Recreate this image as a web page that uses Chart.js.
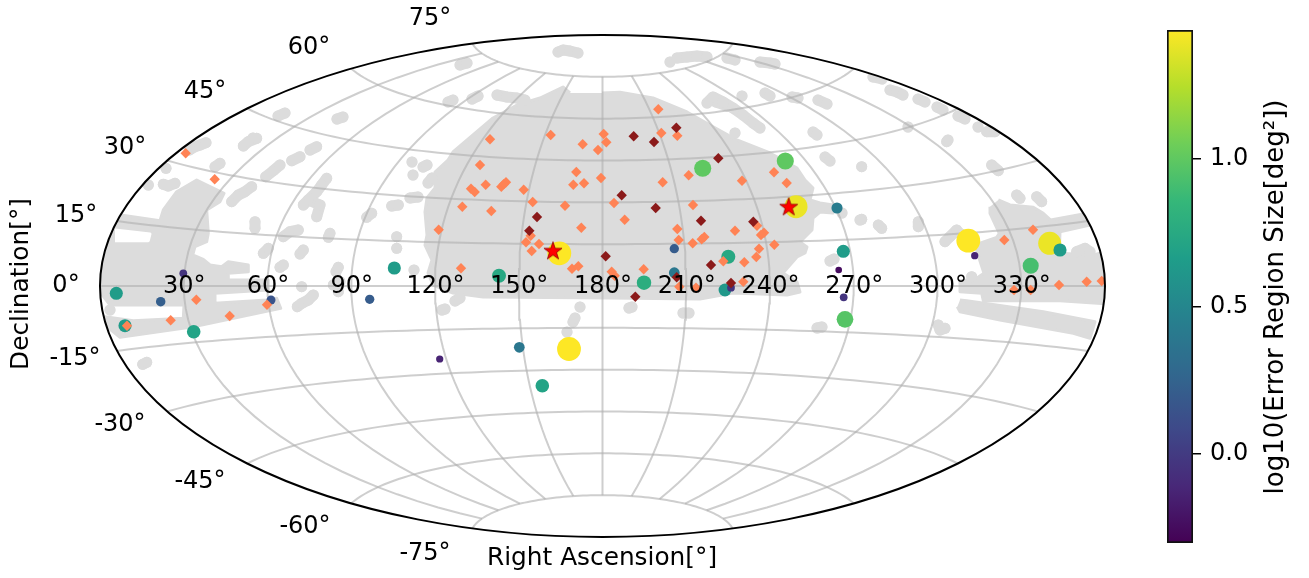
<!DOCTYPE html>
<html><head><meta charset="utf-8">
<style>html,body{margin:0;padding:0;background:#fff;overflow:hidden}canvas{position:absolute;top:0}</style>
<script src="https://cdn.jsdelivr.net/npm/chart.js@4"></script>
</head><body>
<canvas id="sky" width="1140" height="578" style="left:0"></canvas>
<canvas id="bar" width="169" height="578" style="left:1140px"></canvas>
<script>
// Values, in the projected sky plane (origin at RA 180, Dec 0).
const raTicks=[30,60,90,120,150,180,210,240,270,300,330];
const decTicks=[75,60,45,30,15,0,-15,-30,-45,-60,-75];
const decLabelPlane=[[-172.5,269],[-293.5,240],[-397.5,196],[-477.5,140],[-526.5,72],[-536.5,2],[-527.5,-71],[-482.5,-137],[-402.5,-194],[-297.5,-239],[-177.5,-266]];
const colorbarTicks=[0,0.5,1];
const colorRange=[-0.302,1.437];
const radioBursts=[[-486.2,-7.3,.65],[-441.8,-15.7,.22],[-419.2,12.7,-.04],[-477.5,-39.7,.65],[-408.8,-45.7,.7],[-331.5,-14,.15],[-232.8,-13.3,.2],[-208.2,18,.65],[-103.5,10.3,.74],[-43.2,32.7,1.437],[71.8,37.3,.2],[71.8,13.3,.39],[41.5,3.3,.78],[125.8,29.3,.74],[122.5,-4,.62],[128.5,-1.7,-.04],[234.5,78,.43],[240.8,34.7,.65],[236.2,16,-.25],[241.2,-11.3,-.04],[242.5,-33.3,.97],[100.2,117.7,1],[182.8,125,1],[193.5,79.3,1.39],[-33.5,-63,1.437],[-83.2,-61.3,.39],[-162.8,-73,-.13],[-60.2,-99.7,.7],[365.8,45.3,1.437],[372.2,30.3,-.13],[447.2,42.7,1.39],[457.5,36,.65],[428.2,20.3,.92]];
const orangeDiamonds=[[-416.8,132.7],[-387.8,106.7],[-406.2,-13.7],[-431.8,-34.3],[-372.8,-30],[-335.5,-18.7],[-475.5,-39.7],[-112.5,146.7],[-51.8,151],[1.2,152],[3.8,143.7],[-19.8,141.7],[-4.5,136],[-122.5,121],[-26.2,114],[-1.5,108],[-18.5,102.7],[-29.2,101.3],[-116.8,101.3],[-96.5,103.7],[-101.2,99.3],[-98.8,101.7],[-131.5,97.3],[-127.8,94],[-78.8,96.3],[-140.2,79.3],[-111.2,75],[-69.8,84],[-37.5,80.3],[11.5,83],[22.2,66.3],[-21.2,58.3],[-163.8,56.3],[-71.8,50.3],[-76.5,43.7],[-63.5,42],[-70.8,35],[-141.5,17.7],[-30.5,17.3],[-24.2,19.7],[9.2,14.3],[12.2,10.3],[55.8,176.7],[58.8,153],[74.8,150.3],[86.2,110.7],[60.2,103.7],[139.5,105.3],[171.5,113.7],[184.2,103],[90.5,81],[74.8,57],[76.2,46],[90.2,42.7],[101.8,49],[99.2,46.7],[132.5,55.3],[154.5,60.3],[161.5,53.3],[158.5,51],[171.8,41.3],[156.5,37.3],[153.8,29],[141.8,23.7],[120.8,24.7],[41.2,16.7],[76.8,-0.7],[93.5,-1.7],[140.8,4.3],[401.8,46],[430.5,56.3],[456.5,1],[484.2,4.3],[499.2,5],[411.5,-4],[428.2,-4]];
const darkDiamonds=[[19.2,90.7],[-65.5,69],[-73.2,55.3],[3.2,29.7],[31.2,149.7],[73.8,158.3],[51.5,144],[115.8,127.7],[53.2,78],[98.5,65.3],[150.8,64.3],[108.5,21],[128.5,3],[32.8,-10.7],[74.2,8.7]];
const redStars=[[-49.5,34.7],[186.2,78.7]];
const footprintMain=[[-.5,193],[17.5,193.7],[50.5,188],[84.5,174],[107.5,161],[134.5,146],[167.5,133],[194.5,118],[202.5,106],[210.5,98],[207.5,86],[217.5,83],[230.5,81],[230.5,73],[217.5,74],[210.5,68],[209.5,56],[197.5,44],[204.5,39],[202.5,33],[194.5,29],[180.5,13],[194.5,4],[197.5,-6],[184.5,-9],[130.5,-7],[97.5,-13],[7.5,-12],[-119.5,-11],[-149.5,-7],[-169.5,1],[-174.5,13],[-170.5,26],[-177.5,41],[-175.5,51],[-177.5,74],[-175.5,88],[-167.5,98],[-167.5,114],[-154.5,126],[-149.5,134],[-129.5,151],[-109.5,168],[-85.5,181],[-62.5,188],[-39.5,199],[-32.5,193]];
const footprintLeft=[[-481.8,71],[-442.5,65.3],[-439.2,76],[-425.8,94.3],[-405.8,106],[-399.2,102.7],[-378.5,92.7],[-382.5,84.3],[-395.8,76],[-394.2,52.7],[-395.8,44.3],[-407.5,39.3],[-409.8,31],[-399.2,26.7],[-392.5,21],[-380.8,19.3],[-374.2,24.3],[-354.2,21],[-354.2,14.3],[-374.2,12.7],[-374.2,6],[-334.2,6],[-334.2,-4],[-387.5,-7.3],[-387.5,-17.3],[-335.8,-14],[-325.8,-12.3],[-321.8,-22.3],[-409.2,-40.7],[-482.5,-51.3],[-497.5,-39],[-497.5,-30.7],[-469.2,-34.7],[-419.2,-32.3],[-418.5,-19],[-492.5,-19],[-504,-4],[-504,22.7],[-495.8,41],[-489.2,59.3]];
const footprintGap=[[-487.5,56],[-452.5,52],[-454.2,45.3],[-487.5,45.3]];
const footprintRight=[[395.8,86],[407.5,81],[430.8,78.7],[440.8,72.7],[448.2,66],[480.8,72],[487.5,61],[457.5,54.3],[456.8,32.7],[490.8,31],[497.5,32.7],[505.8,22.7],[505.8,-18],[457.5,-14.7],[380.8,-14.7],[379.2,-7.3],[357.5,-5.7],[357.5,5.3],[372.5,6.7],[381.5,12.7],[378.2,22.7],[372.5,41],[394.2,48.7],[396.8,52.7],[387.5,72.7],[387.5,79.3]];
const footprintStrip=[[357.5,-14],[364.2,-14.7],[440.8,-25.7],[492.5,-35.7],[487.5,-52.3],[470.8,-47.3],[397.5,-34],[357.5,-25.7],[354.8,-20.7]];
const footprintPatches=[
[[-359.2,140],[-354.2,144.3],[-345.8,147.7]],[[-413.2,136],[-407.5,139.3],[-402.5,141],[-396.5,143.3]],[[-387.5,119.3],[-382.5,122.7]],[[-336.8,109.3],[-329.2,115.3],[-322.5,121]],[[-310.8,125.3],[-302.5,129.3]],[[-292.5,136],[-285.8,139.3]],[[-454.2,101]],[[-439.2,101.7],[-434.2,100],[-427.5,102.7]],[[-436.5,117.7]],[[-370.8,84.3],[-364.2,91],[-357.5,94.3],[-350.8,99.3]],[[-275.8,107.7],[-280.8,101],[-285.8,94.3],[-294.2,86],[-299.2,81]],[[-294.2,86],[-282.5,81],[-285.8,69.3]],[[-235.8,68.7],[-230.8,72.7]],[[-210.8,80],[-204.2,81]],[[-347.5,64.3],[-347.5,57.7]],[[-319.2,49.3],[-312.5,54.3],[-304.2,56]],[[-274.2,48.7],[-272.5,52.7]],[[-205.8,49.3]],[[-302.5,32],[-299.2,36]],[[-339.2,32.7],[-334.2,37.7]],[[-322.5,18.7],[-319.2,21]],[[-266.5,14.3],[-264.2,18.7]],[[-205.8,37.7]],[[-300.8,-.7]],[[-305.2,-20.7],[-300.8,-17.3],[-294.2,-14],[-289.2,-9]],[[-269.2,1],[-262.5,4.3]],[[-264.2,-5.7]],[[-459.8,-78.3],[-455.8,-76.3]],[[-492.5,-24]],
[[-44.5,234],[-39.5,236],[-32.5,235],[-24.5,233]],[[-142.5,221],[-135.5,223]],[[-154.5,184],[-149.5,186]],[[-130.5,187],[-124.5,190]],[[-105.5,191],[-95.5,189],[-85.5,188],[-77.5,186]],[[-265.5,167],[-259.5,169]],[[-324.5,170],[-317.5,173]],[[-349.5,148]],[[74.5,228],[84.5,229],[94.5,230],[104.5,229]],[[124.5,228],[132.5,226]],[[157.5,224],[167.5,223],[172.5,222]],[[67.5,224]],[[270.5,209],[279.5,207]],[[287.5,196],[294.5,194],[300.5,191]],[[315.5,187],[322.5,184]],[[334.5,179],[340.5,176]],[[355.5,170],[362.5,167]],[[162.5,193],[167.5,190]],[[189.5,189],[195.5,188]],[[215.5,186],[224.5,182]],[[139.5,190]],[[104.5,183],[110.5,189],[120.5,184],[130.5,178],[140.5,171],[150.5,163],[157.5,158]],[[113.5,184],[125,180]],[[210.5,154],[214.5,151]],[[305.5,159]],[[345.5,146]],[[132.5,153]],[[375.5,159]],[[222.5,129],[227.5,125]],[[257.5,66]],[[239.5,73]],[[227.5,25],[231.5,27]],[[214.5,-42],[219.5,-41]],[[29.5,-21],[26.5,-22]],[[80.5,-27],[86.5,-27]],[[-22.5,-21]],[[-29.5,-36],[-27.5,-32]],[[-35.5,-46]],[[-147.5,-15],[-142.5,-12]],[[-160.5,-24],[-157.5,-23]],[[-188.5,16]],[[-190.5,124]],[[-179.5,119],[-175.5,121]],[[-174.5,103],[-170.5,108]],[[-189.5,111]],[[-192.5,88],[-184.5,89]],
[[344.2,144.3]],[[389.2,121],[395.8,115.3]],[[414.2,91],[417.5,87.7]],[[434.2,89.3],[439.2,84.3]],[[315.8,64.3],[315.8,59.3]],[[275.8,61],[279.2,57.7]],[[259.2,66.7]],[[259.2,119.3]],[[342.5,44.3],[347.5,49.3],[354.2,56]],[[357.5,52.7]],[[335.8,-39],[337.5,-44],[342.5,-42.3]],[[384.2,154.3],[392.5,154.3]],[[474.2,34.3],[482.5,37.7],[487.5,34.3]],[[369.2,9.3]]];

const PLANE_W=502.5, PLANE_H=251;
const VIRIDIS=['#440154','#482878','#3e4989','#31688e','#26828e','#1f9e89','#35b779','#6ece58','#b5de2b','#fde725'];
function hex(c){return [1,3,5].map(i=>parseInt(c.substr(i,2),16));}
function viridis(v){
  let t=(v-colorRange[0])/(colorRange[1]-colorRange[0]);t=Math.min(1,Math.max(0,t))*(VIRIDIS.length-1);
  const i=Math.min(VIRIDIS.length-2,Math.floor(t)),f=t-i,a=hex(VIRIDIS[i]),b=hex(VIRIDIS[i+1]);
  return 'rgb('+a.map((c,k)=>Math.round(c+(b[k]-c)*f)).join(',')+')';
}
// Aitoff projection for the graticule.
function aitoff(raDeg,decDeg){
  const l=(raDeg-180)*Math.PI/180,p=decDeg*Math.PI/180;
  const a=Math.acos(Math.cos(p)*Math.cos(l/2)),s=a<1e-9?1:Math.sin(a)/a;
  return {x:(Math.cos(p)*Math.sin(l/2)/s)*2/Math.PI*PLANE_W,y:(Math.sin(p)/s)*2/Math.PI*PLANE_H};
}
function graticule(){
  const sets=[];
  const line=d=>({data:d,showLine:true,pointRadius:0,borderColor:'rgba(176,176,176,.62)',borderWidth:2,order:5,fill:false});
  raTicks.forEach(r=>{const d=[];for(let k=-75;k<=75;k+=3)d.push(aitoff(r,k));sets.push(line(d));});
  decTicks.forEach(t=>{const d=[];for(let k=0;k<=360;k+=4)d.push(aitoff(k,t));sets.push(line(d));});
  return sets;
}
const xy=a=>a.map(p=>({x:p[0],y:p[1]}));
const GRAY='#dcdcdc';
const shape=(a,color,order)=>({data:xy(a),showLine:true,fill:'shape',backgroundColor:color,borderColor:color,borderWidth:3,borderJoinStyle:'round',pointRadius:0,order});
const patch=a=>({data:xy(a),showLine:true,fill:false,borderColor:GRAY,borderWidth:11,borderCapStyle:'round',borderJoinStyle:'round',pointRadius:5.5,backgroundColor:GRAY,pointBorderWidth:0,order:18});
function starImage(){
  const c=document.createElement('canvas');c.width=c.height=24;const g=c.getContext('2d');
  g.beginPath();
  for(let i=0;i<10;i++){const r=i%2?3.7:9.5,a=-Math.PI/2+i*Math.PI/5;g[i?'lineTo':'moveTo'](12+r*Math.cos(a),12+r*Math.sin(a));}
  g.closePath();g.fillStyle='#ff0000';g.fill();g.lineWidth=.8;g.strokeStyle='#8b0000';g.stroke();
  return c;
}
const skyTexts={
  id:'skyTexts',
  beforeDatasetsDraw(ch){const {ctx,scales:{x,y}}=ch;ctx.save();ctx.beginPath();
    ctx.ellipse(x.getPixelForValue(0),y.getPixelForValue(0),PLANE_W,PLANE_H,0,0,Math.PI*2);ctx.clip();},
  afterDatasetsDraw(ch){const {ctx,scales:{x,y}}=ch;ctx.restore();ctx.save();
    ctx.beginPath();ctx.ellipse(x.getPixelForValue(0),y.getPixelForValue(0),PLANE_W,PLANE_H,0,0,Math.PI*2);
    ctx.strokeStyle='#000';ctx.lineWidth=2;ctx.stroke();
    ctx.fillStyle='#000';ctx.textAlign='center';ctx.textBaseline='middle';ctx.font='24px "DejaVu Sans"';
    raTicks.forEach(r=>{const p=aitoff(r,0);ctx.fillText(r+'°',x.getPixelForValue(p.x)+.5,y.getPixelForValue(p.y)+1);});
    decTicks.forEach((d,i)=>{ctx.fillText(d+'°',x.getPixelForValue(decLabelPlane[i][0]),y.getPixelForValue(decLabelPlane[i][1])+2);});
    ctx.font='24.8px "DejaVu Sans"';
    ctx.fillText('Right Ascension[°]',602,558.5);
    ctx.translate(22,284);ctx.rotate(-Math.PI/2);ctx.fillText('Declination[°]',0,0);
    ctx.restore();}
};
new Chart(document.getElementById('sky'),{
  type:'scatter',
  data:{datasets:[
    shape(footprintMain,GRAY,20),shape(footprintLeft,GRAY,20),shape(footprintRight,GRAY,20),shape(footprintStrip,GRAY,20),
    shape(footprintGap,'#ffffff',19),
    ...footprintPatches.map(patch),
    ...graticule(),
    {data:radioBursts.map(p=>({x:p[0],y:p[1],v:p[2]})),pointStyle:'circle',
      pointRadius:c=>4*Math.pow(10,.33*(c.raw?c.raw.v:0)),
      backgroundColor:c=>viridis(c.raw?c.raw.v:0),borderWidth:0,order:3},
    {data:xy(orangeDiamonds),pointStyle:'rectRot',pointRadius:5.2,backgroundColor:'#ff8355',borderWidth:0,order:2},
    {data:xy(darkDiamonds),pointStyle:'rectRot',pointRadius:5.2,backgroundColor:'#8b1a1a',borderWidth:0,order:1},
    {data:xy(redStars),pointStyle:starImage(),pointRadius:12,order:0}
  ]},
  options:{responsive:false,animation:false,events:[],
    layout:{padding:{left:100,top:35,right:35,bottom:41}},
    plugins:{legend:{display:false},tooltip:{enabled:false}},
    scales:{x:{display:false,min:-PLANE_W,max:PLANE_W},y:{display:false,min:-PLANE_H,max:PLANE_H}}
  },
  plugins:[skyTexts]
});
const barTitle={id:'barTitle',afterDraw(ch){const c=ch.ctx;c.save();c.fillStyle='#000';c.textAlign='center';c.textBaseline='middle';
  c.font='26px "DejaVu Sans"';c.translate(136,297);c.rotate(-Math.PI/2);c.fillText('log10(Error Region Size[deg²])',0,0);c.restore();}};
new Chart(document.getElementById('bar'),{
  type:'bar',
  data:{labels:['scale'],datasets:[{data:[colorRange],barPercentage:1,categoryPercentage:1,borderWidth:2,borderColor:'#111',borderSkipped:false,
    backgroundColor(c){const a=c.chart.chartArea;if(!a)return '#888';
      const g=c.chart.ctx.createLinearGradient(0,a.bottom,0,a.top);VIRIDIS.forEach((s,i)=>g.addColorStop(i/(VIRIDIS.length-1),s));return g;}}]},
  options:{responsive:false,animation:false,events:[],
    layout:{padding:{left:27,top:30,right:0,bottom:35}},
    plugins:{legend:{display:false},tooltip:{enabled:false}},
    scales:{x:{display:false},
      y:{position:'right',min:colorRange[0],max:colorRange[1],
        afterFit(s){s.width=116;},
        afterBuildTicks(s){s.ticks=colorbarTicks.map(v=>({value:v}));},
        grid:{drawOnChartArea:false,drawTicks:true,tickLength:8,color:'#000',lineWidth:1.5},
        border:{display:false},
        ticks:{color:'#000',padding:9,font:{size:24,family:'"DejaVu Sans"'},callback:v=>v.toFixed(1)},
        title:{display:false}
      }}
  },
  plugins:[barTitle]
});
</script></body></html>
